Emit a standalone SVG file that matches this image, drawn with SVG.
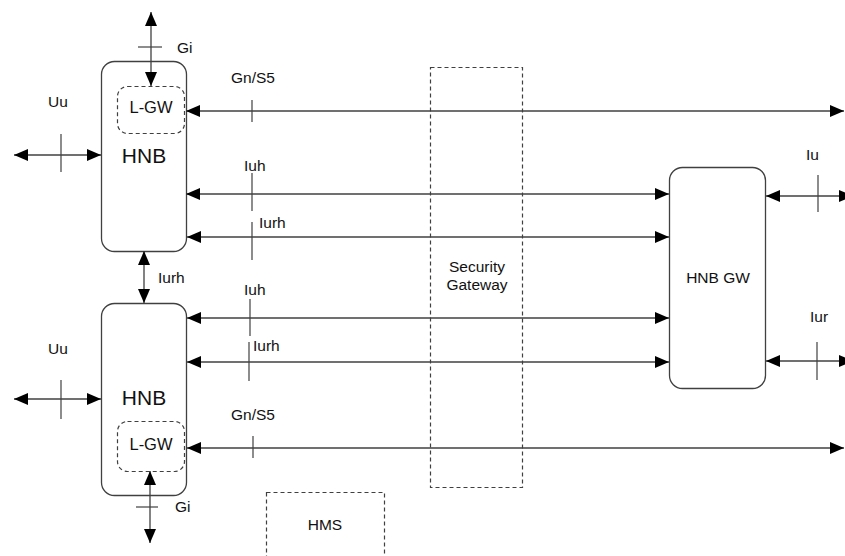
<svg xmlns="http://www.w3.org/2000/svg" width="845" height="556" viewBox="0 0 845 556">
<style>
.box{fill:#fff;stroke:#404040;stroke-width:1.3}
.dash{fill:none;stroke:#404040;stroke-width:1.2;stroke-dasharray:4,3}
.ln{fill:none;stroke:#404040;stroke-width:1.3}
.tk{fill:none;stroke:#404040;stroke-width:1.2}
text{font-family:"Liberation Sans",Arial,sans-serif;font-size:15.5px;fill:#111}
.big{font-size:21px}
.lg{font-size:16.5px}
</style>
<defs>
<marker id="ah" viewBox="0 0 14 12" refX="14" refY="6" markerWidth="14" markerHeight="12" markerUnits="userSpaceOnUse" orient="auto-start-reverse">
<path d="M0,0 L14,6 L0,12 Z" fill="#000"/>
</marker>
</defs>
<rect width="845" height="556" fill="#fff"/>

<g id="security-gateway">
<rect class="dash" x="430.5" y="67.5" width="92" height="420"/>
<text x="477" y="272" text-anchor="middle">Security</text>
<text x="477" y="290" text-anchor="middle">Gateway</text>
</g>

<g id="hms">
<rect class="dash" x="266.5" y="492.5" width="118" height="80"/>
<text x="325" y="530" text-anchor="middle">HMS</text>
</g>

<g id="hnb1">
<rect class="box" x="101.5" y="61.5" width="85" height="190" rx="13"/>
<text class="big" x="144" y="163" text-anchor="middle">HNB</text>
</g>
<g id="lgw1">
<rect class="dash" x="117.5" y="86.5" width="67" height="47" rx="10"/>
<text class="lg" x="151" y="113" text-anchor="middle">L-GW</text>
</g>

<g id="hnb2">
<rect class="box" x="101.5" y="303.5" width="85" height="192" rx="13"/>
<text class="big" x="144" y="405" text-anchor="middle">HNB</text>
</g>
<g id="lgw2">
<rect class="dash" x="117.5" y="421.5" width="67" height="50" rx="10"/>
<text class="lg" x="151" y="450" text-anchor="middle">L-GW</text>
</g>

<g id="hnbgw">
<rect class="box" x="669.5" y="167.5" width="96" height="221" rx="13"/>
<text x="718" y="283" text-anchor="middle">HNB GW</text>
</g>

<g id="connectors">
<!-- Gi top -->
<line class="ln" x1="151" y1="86" x2="151" y2="12" marker-start="url(#ah)" marker-end="url(#ah)"/>
<line class="tk" x1="138" y1="47" x2="162" y2="47"/>
<text x="177" y="53">Gi</text>
<!-- Uu top -->
<line class="ln" x1="101" y1="155" x2="14" y2="155" marker-start="url(#ah)" marker-end="url(#ah)"/>
<line class="tk" x1="61" y1="134" x2="61" y2="172"/>
<text x="48" y="107">Uu</text>
<!-- Gn/S5 top -->
<line class="ln" x1="186" y1="111" x2="844" y2="111" marker-start="url(#ah)" marker-end="url(#ah)"/>
<line class="tk" x1="252" y1="100" x2="252" y2="122"/>
<text x="231" y="83">Gn/S5</text>
<!-- Iuh 1 -->
<line class="ln" x1="186" y1="194" x2="669" y2="194" marker-start="url(#ah)" marker-end="url(#ah)"/>
<line class="tk" x1="252" y1="173" x2="252" y2="211"/>
<text x="244" y="171">Iuh</text>
<!-- Iurh 1 -->
<line class="ln" x1="187" y1="237" x2="669" y2="237" marker-start="url(#ah)" marker-end="url(#ah)"/>
<line class="tk" x1="252" y1="222" x2="252" y2="260"/>
<text x="259" y="228">Iurh</text>
<!-- Iurh vertical -->
<line class="ln" x1="144" y1="251" x2="144" y2="303" marker-start="url(#ah)" marker-end="url(#ah)"/>
<text x="158" y="283">Iurh</text>
<!-- Iuh 2 -->
<line class="ln" x1="187" y1="318" x2="669" y2="318" marker-start="url(#ah)" marker-end="url(#ah)"/>
<line class="tk" x1="250" y1="299" x2="250" y2="336"/>
<text x="244" y="295">Iuh</text>
<!-- Iurh 2 -->
<line class="ln" x1="187" y1="362" x2="669" y2="362" marker-start="url(#ah)" marker-end="url(#ah)"/>
<line class="tk" x1="249" y1="342" x2="249" y2="381"/>
<text x="253" y="351">Iurh</text>
<!-- Uu bottom -->
<line class="ln" x1="101" y1="399" x2="14" y2="399" marker-start="url(#ah)" marker-end="url(#ah)"/>
<line class="tk" x1="61" y1="380" x2="61" y2="419"/>
<text x="48" y="354">Uu</text>
<!-- Gn/S5 bottom -->
<line class="ln" x1="187" y1="448" x2="844" y2="448" marker-start="url(#ah)" marker-end="url(#ah)"/>
<line class="tk" x1="253" y1="436" x2="253" y2="458"/>
<text x="231" y="420">Gn/S5</text>
<!-- Gi bottom -->
<line class="ln" x1="150" y1="471" x2="150" y2="543" marker-start="url(#ah)" marker-end="url(#ah)"/>
<line class="tk" x1="136" y1="507" x2="158" y2="507"/>
<text x="175" y="512">Gi</text>
<!-- Iu -->
<line class="ln" x1="766" y1="196" x2="853" y2="196" marker-start="url(#ah)" marker-end="url(#ah)"/>
<line class="tk" x1="818" y1="175" x2="818" y2="212"/>
<text x="806" y="160">Iu</text>
<!-- Iur -->
<line class="ln" x1="766" y1="361" x2="853" y2="361" marker-start="url(#ah)" marker-end="url(#ah)"/>
<line class="tk" x1="817" y1="342" x2="817" y2="380"/>
<text x="810" y="322">Iur</text>
</g>
</svg>
